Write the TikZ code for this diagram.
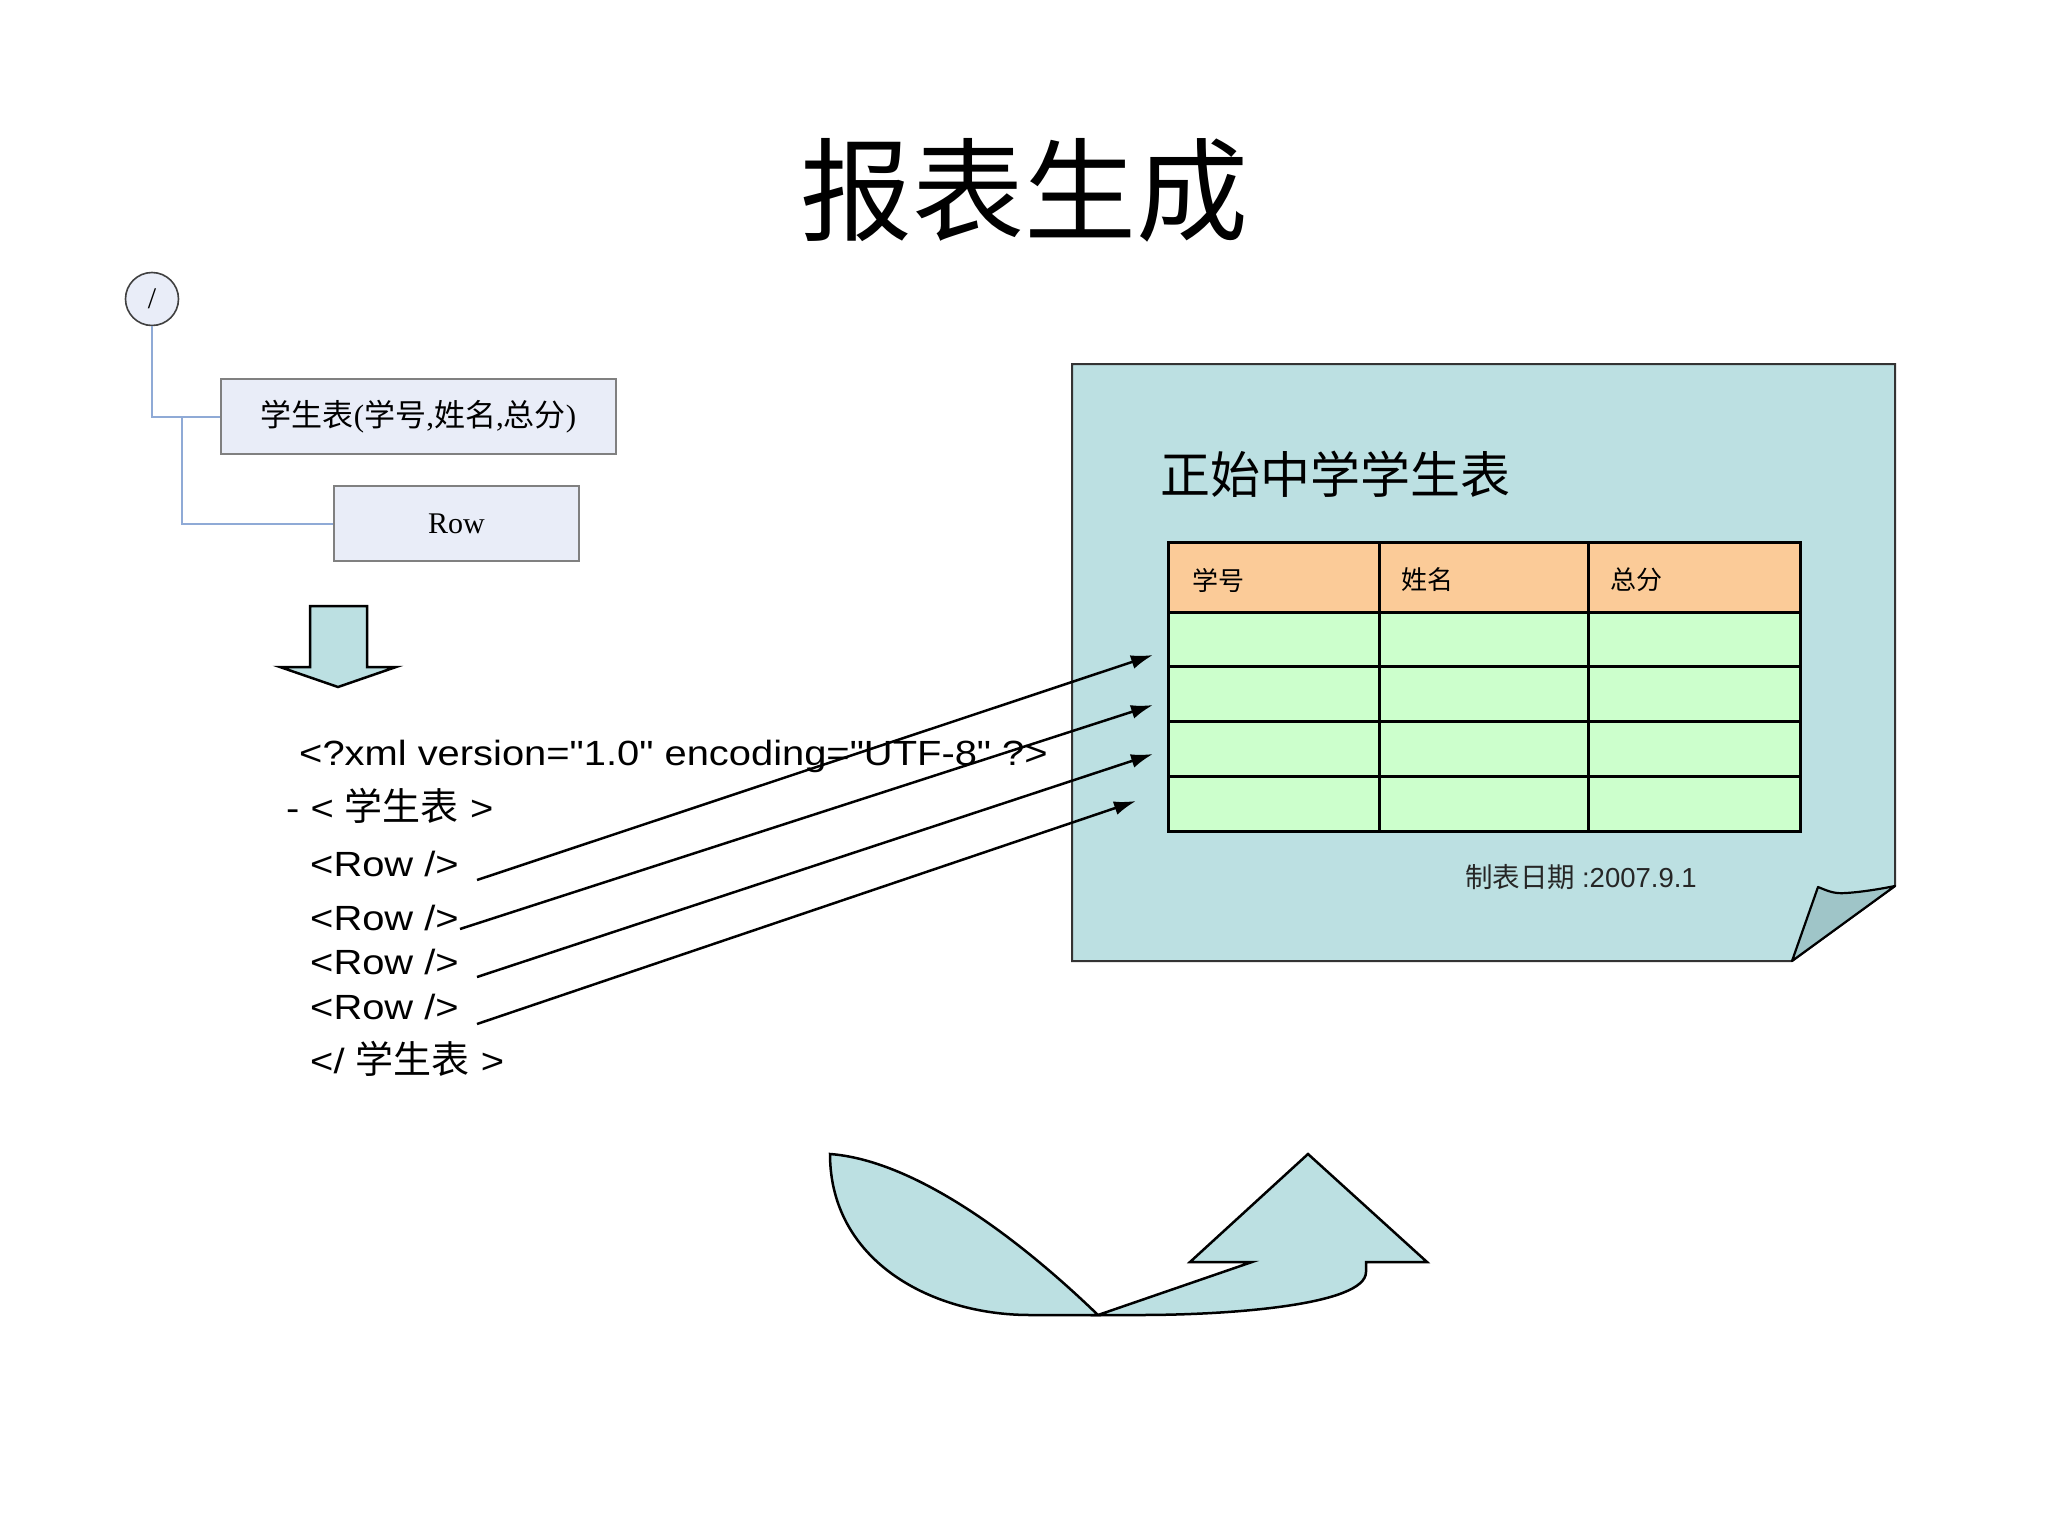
\documentclass[tikz,border=0pt]{standalone}
\usepackage{fontspec}
\setmainfont{Liberation Serif}
\newfontfamily\cjk{Noto Sans CJK SC}
\newfontfamily\arialx[FakeStretch=1.14]{Liberation Sans}
\newfontfamily\arial{Liberation Sans}
\usetikzlibrary{arrows.meta}
\definecolor{paperfill}{HTML}{BCE0E2}
\definecolor{flapfill}{HTML}{9FC5C8}
\definecolor{hdrfill}{HTML}{FBCB98}
\definecolor{bodyfill}{HTML}{CCFFCC}
\definecolor{boxfill}{HTML}{E9EDF8}
\definecolor{treeblue}{HTML}{8FAAD6}
\tikzset{
  treebox/.style={draw=black!50, line width=1.6pt, fill=boxfill, inner sep=0pt},
  treeline/.style={draw=treeblue, line width=2pt},
  xmlline/.style={anchor=base west, inner sep=0pt, font=\arialx\fontsize{35}{40}\selectfont},
  conn/.style={line width=2.5pt, -{Latex[length=22pt,width=14pt]}},
  blueshape/.style={fill=paperfill, draw=black, line width=2.5pt, line join=miter},
  tline/.style={line width=3pt, draw=black},
  hdrtext/.style={anchor=west, inner sep=0pt, font=\cjk\fontsize{26}{30}\selectfont}
}
\begin{document}
\begin{tikzpicture}[x=1pt,y=-1pt]
\useasboundingbox (0,0) rectangle (2048,1536);
\fill[white] (0,0) rectangle (2048,1536);

% title
\node[inner sep=0pt, font=\cjk\fontsize{112}{120}\selectfont] (title) at (1024,190) {报表生成};

% tree
\node[circle, draw=black!75, line width=1.6pt, fill=boxfill, minimum size=53pt, inner sep=0pt,
      font=\fontsize{30}{34}\selectfont] (root) at (152,299) {/};
\node[treebox, minimum width=395pt, minimum height=75pt,
      font=\fontsize{31}{36}\selectfont] (box1) at (418.5,416.5)
      {{\cjk 学生表}({\cjk 学号},{\cjk 姓名},{\cjk 总分})};
\node[treebox, minimum width=245pt, minimum height=75pt,
      font=\fontsize{30}{34}\selectfont] (box2) at (456.5,523.5) {Row};
\coordinate (br) at (182,416.5);
\draw[treeline] (root.south) |- (box1.west);
\draw[treeline] (br) |- (box2.west);

% down arrow
\draw[blueshape] (310,606) -- (367,606) -- (367,667) -- (396,667) -- (338,687)
   -- (280,667) -- (310,667) -- cycle;

% xml text
\node[xmlline] (x1) at (299,765) {<?xml version="1.0" encoding="UTF-8" ?>};
\node[xmlline] (x2) at (286,820) {- < {\cjk\fontsize{38}{40}\selectfont 学生表} >};
\node[xmlline] (r1) at (310,876) {<Row />};
\node[xmlline] (r2) at (310,930) {<Row />};
\node[xmlline] (r3) at (310,974) {<Row />};
\node[xmlline] (r4) at (310,1019) {<Row />};
\node[xmlline] (x7) at (310,1073) {</ {\cjk\fontsize{38}{40}\selectfont 学生表} >};

% paper
\draw[fill=paperfill, draw=black!80, line width=2pt] (1072,364) -- (1895,364) -- (1895,886)
   -- (1792,961) -- (1072,961) -- cycle;
\draw[fill=flapfill, draw=black, line width=2.2pt, line join=round] (1895,886) -- (1792,961) -- (1818,887)
   .. controls (1828,891) and (1834,894) .. (1846,893)
   .. controls (1862,892) and (1880,889) .. (1895,886) -- cycle;

\node[anchor=west, inner sep=0pt, font=\cjk\fontsize{50}{56}\selectfont] (ptitle) at (1160,474) {正始中学学生表};

% table
\fill[hdrfill] (1168,542) rectangle (1800,612);
\fill[bodyfill] (1168,612) rectangle (1800,831);
\draw[tline] (1168,542) rectangle (1800,831);
\foreach \yy in {612,666,721,776} { \draw[tline] (1168,\yy) -- (1800,\yy); }
\foreach \xx in {1379,1588} { \draw[tline] (\xx,542) -- (\xx,831); }
\node[hdrtext] (h1) at (1192,580) {学号};
\node[hdrtext] (h2) at (1401,580) {姓名};
\node[hdrtext] (h3) at (1610,580) {总分};

\node[anchor=base west, inner sep=0pt, text=black!85, font=\fontsize{27.5}{30}\selectfont] (date) at (1465,887)
   {{\cjk 制表日期} {\arial :2007.9.1}};

% connectors
\coordinate (s1) at (477,880);  \coordinate (e1) at (1153,655);
\coordinate (s2) at (460,929);  \coordinate (e2) at (1153,705);
\coordinate (s3) at (477,977);  \coordinate (e3) at (1153,754);
\coordinate (s4) at (477,1024); \coordinate (e4) at (1136,801);
\draw[conn] (s1) -- (e1);
\draw[conn] (s2) -- (e2);
\draw[conn] (s3) -- (e3);
\draw[conn] (s4) -- (e4);

% bottom curved shape
\draw[blueshape] (830,1154) .. controls (830,1260) and (930,1315) .. (1030,1315) -- (1098,1315)
   .. controls (1010,1230) and (910,1160) .. (830,1154) -- cycle;
\draw[blueshape] (1098,1315) -- (1252,1262) -- (1190,1262) -- (1308,1154) -- (1427,1262)
   -- (1366,1262) -- (1366,1272) .. controls (1366,1305) and (1230,1315) .. (1140,1315) -- cycle;
\end{tikzpicture}
\end{document}
